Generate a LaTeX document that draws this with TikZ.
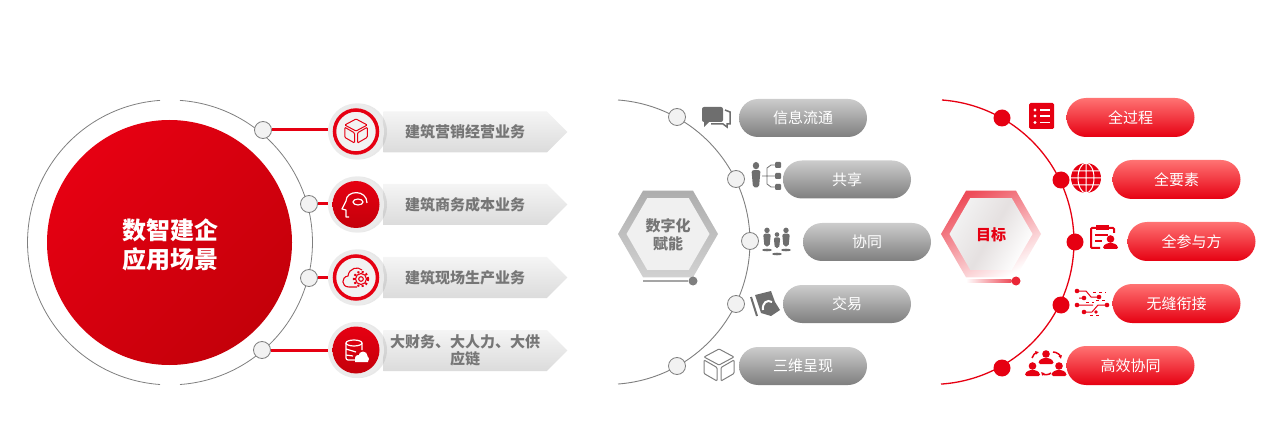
\documentclass[tikz,border=0pt]{standalone}
\usepackage{fontspec}
\setmainfont{Noto Sans CJK SC}
\usetikzlibrary{positioning,shapes.geometric,shapes.misc,shapes.symbols,shadows,arrows.meta}
\definecolor{redc}{HTML}{E60012}
\definecolor{reddark}{HTML}{C4000A}
\definecolor{greyline}{HTML}{7F7F7F}
\definecolor{greyicon}{HTML}{6E6E6E}
\definecolor{greytext}{HTML}{767676}
\tikzset{
    bigdisc/.style={circle,minimum size=245pt,inner sep=0pt,left color=redc,right color=reddark,shading angle=45},
    corelabel/.style={text=white,align=center,inner sep=0pt,font=\fontsize{24}{29}\selectfont\bfseries},
    knob/.style={circle,minimum size=17pt,inner sep=0pt,draw=greyline,line width=.8pt,fill=black!5},
    reddot/.style={circle,minimum size=17pt,inner sep=0pt,fill=redc},
    halo/.style={circle,minimum size=56pt,inner sep=0pt,fill=black!8,drop shadow={opacity=.18,shadow xshift=3pt,shadow yshift=0pt}},
    soliddisc/.style={circle,minimum size=47pt,inner sep=0pt,top color=redc,bottom color=reddark},
    ringdisc/.style={circle,minimum size=43pt,inner sep=0pt,draw=redc,line width=3.5pt,fill=black!5},
    banner/.style={signal,signal to=east,signal pointer angle=90,minimum width=184pt,minimum height=41pt,inner sep=0pt,top color=black!4,bottom color=black!14,text=greytext,align=center,font=\fontsize{15}{17}\selectfont\bfseries},
    greypill/.style={rounded rectangle,minimum width=128pt,minimum height=38pt,inner sep=0pt,top color=black!20,middle color=greyline,bottom color=greyline,text=white,font=\fontsize{15}{18}\selectfont},
    redpill/.style={rounded rectangle,minimum width=128pt,minimum height=39pt,inner sep=0pt,top color=red!55!white,middle color=redc,bottom color=redc,text=white,font=\fontsize{15}{18}\selectfont},
    hexouter/.style={regular polygon,regular polygon sides=6,minimum size=100pt,inner sep=0pt},
    hexinner/.style={regular polygon,regular polygon sides=6,minimum size=83pt,inner sep=0pt},
    hexlabel/.style={align=center,inner sep=0pt,font=\fontsize{15}{18}\selectfont\bfseries},
    cubeicon/.pic={\draw[rounded corners=1pt] (0,-16)--(15,-8)--(0,0)--(-15,-8)--cycle (-15,-5)--(-2,2.5)--(-2,16)--(-15,8.5)--cycle (15,-5)--(2,2.5)--(2,16)--(15,8.5)--cycle;},
    personicon/.pic={\fill (0,-9) circle (3.2); \fill[rounded corners=2pt] (-4.5,-5)--(4.5,-5)--(3,10)--(-3,10)--cycle;},
    busticon/.pic={\fill (0,-5) circle (3.8); \fill[rounded corners=1.5pt] (-7.5,5)--(-7.5,2)--(-3,-1)--(3,-1)--(7.5,2)--(7.5,5)--cycle;},
}
\begin{document}
\begin{tikzpicture}[x=1pt,y=-1pt]
    \useasboundingbox (0,0) rectangle (1287,438);
    % left part
    \draw[greyline,line width=.8pt] (180,100.4) arc[start angle=-86,end angle=86,radius=142.4];
    \draw[greyline,line width=.8pt] (160,100.4) arc[start angle=-94,end angle=-266,radius=142.4];
    \node[bigdisc] (core) at (169.5,242.5) {};
    \node[corelabel] (coretext) at (170.5,245) {数智建企\\应用场景};
    \node[banner] (b1) at (465,132) {建筑营销经营业务};
    \node[banner] (b2) at (465,204.5) {建筑商务成本业务};
    \node[banner] (b3) at (465,277.5) {建筑现场生产业务};
    \node[banner] (b4) at (465,350.5) {大财务、大人力、大供\\应链};
    \node[halo] (h1) at (356,131.5) {};
    \node[halo] (h2) at (356,204.5) {};
    \node[halo] (h3) at (356,277.5) {};
    \node[halo] (h4) at (356,350) {};
    \node[knob] (k1) at (263,130) {};
    \node[knob] (k2) at (309,204) {};
    \node[knob] (k3) at (309,278) {};
    \node[knob] (k4) at (262,350) {};
    \draw[redc,line width=3pt] (k1.east) -- (h1.west |- k1);
    \draw[redc,line width=3pt] (k2.east) -- (h2.west |- k2);
    \draw[redc,line width=3pt] (k3.east) -- (h3.west |- k3);
    \draw[redc,line width=3pt] (k4.east) -- (h4.west |- k4);
    \node[ringdisc] (d1) at (h1) {};
    \node[soliddisc] (d2) at (h2) {};
    \node[ringdisc] (d3) at (h3) {};
    \node[soliddisc] (d4) at (h4) {};
    \pic[redc,line width=1pt,scale=.75] at (356,131) {cubeicon};
    % head
    \draw[white,line width=1.2pt,line join=round] (349,217) -- (346,217) -- (346,210) -- (342,209) -- (346,201) .. controls (346,190) and (367,189) .. (367,203);
    \draw[white,line width=1.2pt] (358,202) ellipse (5 and 3);
    % cloud and gear
    \draw[redc,line width=1.1pt] (357,287) -- (349,287) .. controls (341,287) and (341,277) .. (348,276) .. controls (349,268) and (358,266) .. (362,270);
    \draw[redc,line width=1.1pt] (361,279) circle (2.3) circle (5.5);
    \draw[redc,line width=2pt,dash pattern=on 2pt off 2.3pt] (361,279) circle (7.2);
    % database and cloud
    \draw[white,line width=1.2pt] (354,343) ellipse (8 and 3);
    \draw[white,line width=1.2pt,rounded corners=2pt] (346,343) -- (346,360) -- (355,360) (362,343) -- (362,350) (346,349) -- (356,352) (346,355) -- (353,356);
    \fill[white] (355,362) rectangle (368,358) (358,358) circle (3) (363,356) circle (4.5) (366,359) circle (3);
    % middle part
    \draw[greyline,line width=.9pt] (618,100) arc[start angle=-85.8,end angle=85.8,radius=142.4];
    \node[knob] (m1) at (677,117) {};
    \node[knob] (m2) at (736,179) {};
    \node[knob] (m3) at (750,241) {};
    \node[knob] (m4) at (736,304) {};
    \node[knob] (m5) at (677,366) {};
    \node[hexouter,top color=black!32,bottom color=black!18] (hexa) at (668,234) {};
    \node[hexinner,fill=black!6] (hexb) at (hexa) {};
    \node[hexlabel,text=greytext] (hexc) at (668,235) {数字化\\赋能};
    \node[circle,minimum size=9pt,inner sep=0pt,fill=greyline] (hexdot) at (693,281) {};
    \coordinate (hexend) at (643,281);
    \draw[greyline!70,line width=1.5pt] (hexend) -- (hexdot);
    \node[greypill] (p1) at (803,118) {信息流通};
    \node[greypill] (p2) at (847,179.5) {共享};
    \node[greypill] (p3) at (867,242) {协同};
    \node[greypill] (p4) at (847,304) {交易};
    \node[greypill] (p5) at (803,366) {三维呈现};
    % chat
    \fill[greyicon,rounded corners=2pt] (702,107) rectangle (723,122);
    \fill[greyicon] (704,120) -- (704,127) -- (711,120) -- cycle;
    \draw[greyicon,line width=1.5pt] (725,110) -- (730,112) -- (730,124) -- (727,124) -- (727,127) -- (723,124) -- (711,124);
    % person and tree
    \pic[greyicon,yscale=1.15] at (756,176) {personicon};
    \draw[greyicon,line width=.8pt] (762,176) -- (775,176) (775,165) -- (771,165) -- (767,168) -- (767,184) -- (771,187) -- (775,187);
    \fill[greyicon,rounded corners=1pt] (775,162) rectangle (781,168) (775,173) rectangle (781,179) (775,184) rectangle (781,190);
    % three people
    \pic[greyicon,scale=.85] at (767,238) {personicon};
    \pic[greyicon,scale=.72] at (777,241) {personicon};
    \pic[greyicon,scale=.85] at (786,238) {personicon};
    \fill[greyicon] (767,250) ellipse (5 and 1.3) (786,250) ellipse (5 and 1.3) (777,254) ellipse (5 and 1.3);
    % trade
    \draw[greyicon,line width=2pt] (751,297) -- (757,316);
    \fill[greyicon] (755,295) -- (771,291) -- (775,302) -- (780,310) -- (771,316) -- (761,313) -- cycle;
    \draw[white,line width=2pt] (763,310) .. controls (762,303) and (767,299) .. (772,302);
    \pic[greyline,line width=1pt] at (719,365) {cubeicon};
    % right part
    \draw[redc,line width=1.3pt] (942,100) arc[start angle=-85.8,end angle=86.2,radius=142.4];
    \node[reddot] (r1) at (1002,118) {};
    \node[reddot] (r2) at (1061,180) {};
    \node[reddot] (r3) at (1075,242) {};
    \node[reddot] (r4) at (1061,305) {};
    \node[reddot] (r5) at (1002,368) {};
    \node[hexouter,left color=redc!70!white,right color=white,shading angle=30] (goala) at (991,234) {};
    \node[hexinner,left color=black!5,right color=white,middle color=red!15!black!12,shading angle=60] (goalb) at (goala) {};
    \node[hexlabel,text=redc] (goalc) at (991,234.5) {目标};
    \node[circle,minimum size=9pt,inner sep=0pt,fill=redc!85!white] (goaldot) at (1016,281) {};
    \shade[left color=white,right color=redc!70!white] (966,280) rectangle (goaldot.west |- 0,282);
    \node[redpill] (q1) at (1130.5,117.5) {全过程};
    \node[redpill] (q2) at (1176.5,179.5) {全要素};
    \node[redpill] (q3) at (1191.5,241.5) {全参与方};
    \node[redpill] (q4) at (1176.5,303.5) {无缝衔接};
    \node[redpill] (q5) at (1130.5,365.5) {高效协同};
    % list
    \fill[redc,rounded corners=1.5pt] (1029,103) rectangle (1054,129);
    \draw[white,line width=1.6pt] (1040,110) -- (1050,110) (1040,116) -- (1050,116) (1040,122.5) -- (1050,122.5);
    \fill[white] (1035,116) circle (1.6) (1035,122.5) circle (1.6) (1035,110) circle (1.6);
    % globe
    \fill[redc] (1086,178) circle (15);
    \draw[white,line width=1pt] (1073,171) -- (1099,171) (1071,178) -- (1101,178) (1073,185) -- (1099,185) (1086,163) -- (1086,193) (1086,178) ellipse (8 and 15);
    % clipboard
    \draw[redc,line width=2pt,rounded corners=1pt] (1100,248) -- (1091,248) -- (1091,228) -- (1114,228) -- (1114,233);
    \fill[redc] (1096,225) rectangle (1109,230);
    \draw[redc,line width=1.6pt] (1095,235) -- (1108,235) (1095,241) -- (1102,241);
    \pic[redc] at (1110.5,244) {busticon};
    % circuit
    \draw[redc,line width=1pt] (1077,291) -- (1086,291) -- (1091,297) -- (1099,297) (1084,298) -- (1079,298) (1077,305) -- (1093,305) (1107,305) -- (1098,305) -- (1092,312) -- (1084,312);
    \draw[redc,line width=1pt,dashed] (1093,292) -- (1106,292) (1096,300) -- (1106,300) (1086,302) -- (1094,302) (1090,315) -- (1100,315);
    \fill[redc] (1077,291) circle (2.3) (1099,297) circle (2.3) (1084,298) circle (2.3) (1077,305) circle (2.3) (1107,305) circle (2.3) (1084,312) circle (2.3) (1096,312) circle (1.8);
    % people and arrows
    \pic[redc] at (1046,359) {busticon};
    \pic[redc] at (1032.5,371) {busticon};
    \pic[redc] at (1059,371) {busticon};
    \draw[redc,line width=1.5pt,-{Latex[length=3.5pt,width=4pt]}] (1032,358) .. controls (1033,355) and (1035,353) .. (1039,352);
    \draw[redc,line width=1.5pt,-{Latex[length=3.5pt,width=4pt]}] (1053,352) .. controls (1057,352) and (1060,355) .. (1061,359);
    \draw[redc,line width=1.5pt,-{Latex[length=3.5pt,width=4pt]}] (1051,373) .. controls (1049,375) and (1044,375) .. (1041,372);
\end{tikzpicture}
\end{document}
